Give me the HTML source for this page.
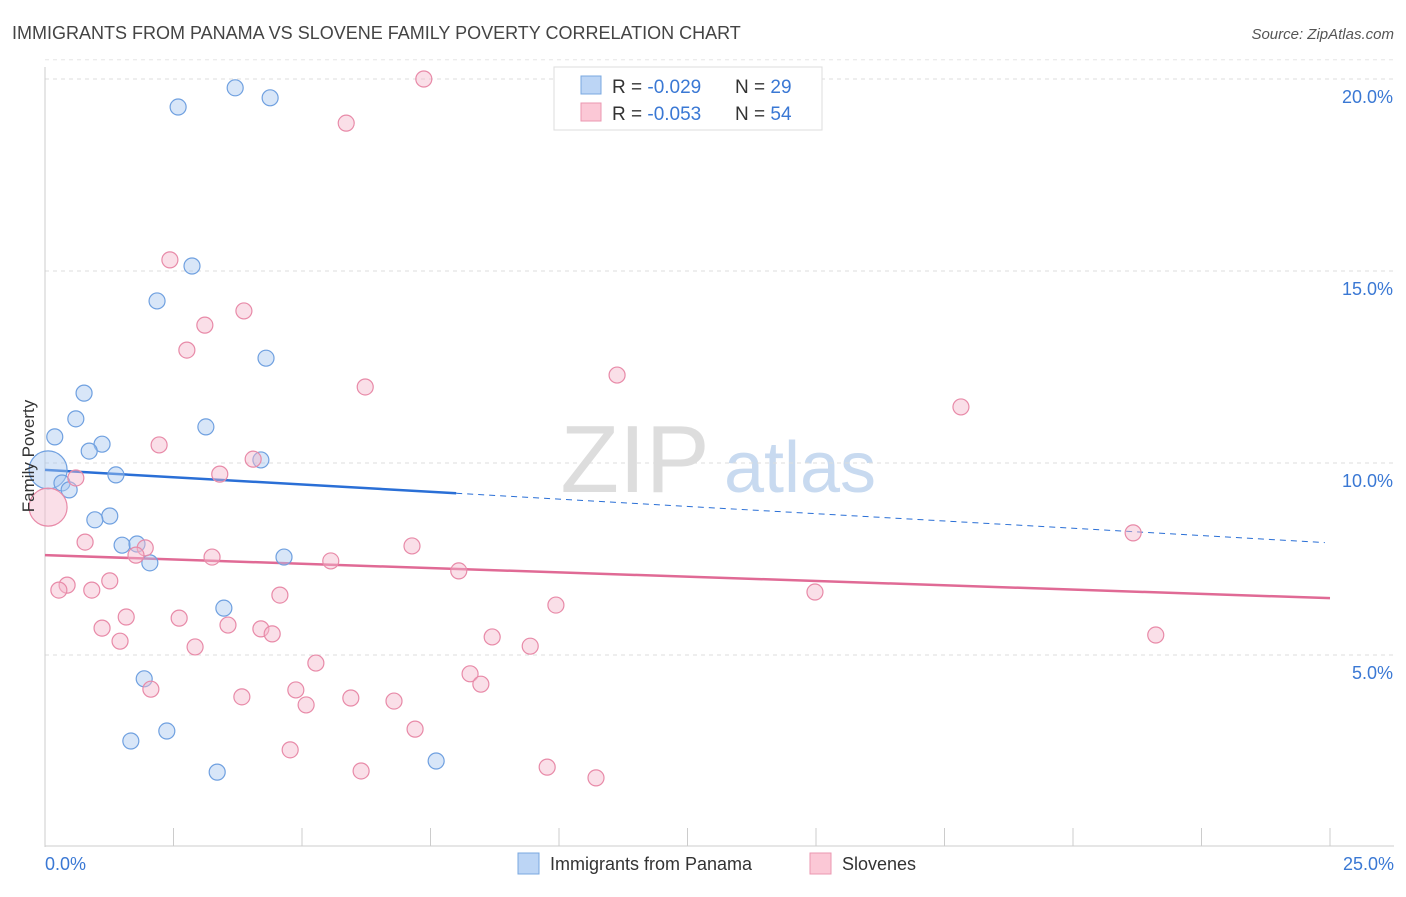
<!DOCTYPE html>
<html><head><meta charset="utf-8"><style>
body{margin:0;background:#fff;font-family:"Liberation Sans",sans-serif;}
svg text{font-family:"Liberation Sans",sans-serif;}
</style></head><body>
<svg id="chart" width="1406" height="892" viewBox="0 0 1406 892" xmlns="http://www.w3.org/2000/svg">
<text x="12" y="39" font-size="18" fill="#444">IMMIGRANTS FROM PANAMA VS SLOVENE FAMILY POVERTY CORRELATION CHART</text>
<text x="1394" y="39" font-size="15" fill="#555" text-anchor="end" font-style="italic">Source: ZipAtlas.com</text>
<g>
<text x="635" y="492" font-size="96" fill="#ddd" text-anchor="middle" font-family="Liberation Serif">ZIP</text>
<text x="800" y="492" font-size="72" fill="#c8daf0" text-anchor="middle">atlas</text>
</g>
<g id="grid"></g>
<g id="axes"></g>
<g id="lines"></g>
<g id="pts"></g>
<text transform="translate(34,456) rotate(-90)" font-size="17" fill="#333" text-anchor="middle">Family Poverty</text>
<g>
<rect x="554" y="67" width="268" height="63" fill="#fff" stroke="#ddd"/>
<rect x="581" y="76" width="20" height="18" fill="#bcd5f5" stroke="#7aa8e0"/>
<rect x="581" y="103" width="20" height="18" fill="#fbc8d6" stroke="#eb97b0"/>
<text x="612" y="93" font-size="19" fill="#333">R = <tspan fill="#3a78d4">-0.029</tspan></text>
<text x="735" y="93" font-size="19" fill="#333">N = <tspan fill="#3a78d4">29</tspan></text>
<text x="612" y="120" font-size="19" fill="#333">R = <tspan fill="#3a78d4">-0.053</tspan></text>
<text x="735" y="120" font-size="19" fill="#333">N = <tspan fill="#3a78d4">54</tspan></text>
</g>
<g>
<rect x="518" y="853" width="21" height="21" fill="#bcd5f5" stroke="#7aa8e0"/>
<text x="550" y="870" font-size="18" fill="#333">Immigrants from Panama</text>
<rect x="810" y="853" width="21" height="21" fill="#fbc8d6" stroke="#eb97b0"/>
<text x="842" y="870" font-size="18" fill="#333">Slovenes</text>
</g>
</svg>
<script>
const yTicks=[5,10,15,20];
const yTickLabels=["5.0%","10.0%","15.0%","20.0%"];
const xTicks=[0,2.5,5,7.5,10,12.5,15,17.5,20,22.5,25];
const blueX=[3.70,4.38,2.59,2.86,2.18,4.30,0.76,0.60,0.19,3.13,1.11,0.86,4.20,1.38,0.06,0.33,0.47,1.26,0.97,1.50,1.79,2.04,4.65,3.48,1.93,2.37,1.67,3.35,7.61];
const blueY=[19.77,19.51,19.27,15.13,14.22,12.73,11.82,11.15,10.68,10.94,10.49,10.31,10.08,9.69,9.82,9.48,9.30,8.62,8.52,7.86,7.89,7.40,7.55,6.22,4.38,3.02,2.76,1.95,2.24];
const pinkX=[7.37,5.86,2.43,3.87,3.11,2.76,6.23,11.13,17.82,2.22,4.05,0.60,3.40,0.06,0.78,1.95,1.77,3.25,5.56,7.14,8.05,21.17,0.43,0.27,1.26,0.91,4.57,9.94,14.98,2.61,1.58,1.11,3.56,4.20,4.42,1.46,2.92,8.70,9.44,21.61,5.27,8.27,8.48,2.06,4.88,3.83,5.95,6.79,5.08,7.20,4.77,6.15,9.77,10.72];
const pinkY=[20.0,18.85,15.29,13.96,13.59,12.94,11.98,12.29,11.46,10.47,10.10,9.61,9.71,8.85,7.94,7.79,7.60,7.55,7.45,7.84,7.19,8.18,6.82,6.69,6.93,6.69,6.56,6.30,6.64,5.96,5.99,5.70,5.78,5.68,5.55,5.36,5.21,5.47,5.23,5.52,4.79,4.51,4.24,4.11,4.09,3.91,3.88,3.80,3.70,3.07,2.53,1.98,2.08,1.80];
const blueTrend=[9.82,7.92];
const pinkTrend=[7.60,6.48];
const blueSolidEnd=8.0;
const NS="http://www.w3.org/2000/svg";
const sx=v=>45+v/25*1285;
const sy=v=>847-v*38.4;
function mk(tag,attrs,parent){const e=document.createElementNS(NS,tag);for(const k in attrs)e.setAttribute(k,attrs[k]);document.getElementById(parent).appendChild(e);return e;}
yTicks.forEach((t,i)=>{
 const l=mk('line',{x1:45,x2:1394,y1:sy(t),y2:sy(t),stroke:'#ddd','stroke-dasharray':'4,4'},'grid');
 
 
 const tx=mk('text',{x:1393,y:sy(t)+24,'font-size':18,fill:'#3a78d4','text-anchor':'end'},'grid');
 tx.textContent=yTickLabels[i];
 
 
});
const topGrid=mk('line',{x1:45,x2:1394,y1:sy(20.5),y2:sy(20.5),stroke:'#e6e6e6','stroke-dasharray':'4,4'},'grid');


const ya=mk('line',{x1:45,x2:45,y1:67,y2:847,stroke:'#ccc'},'axes');


const xa=mk('line',{x1:45,x2:1394,y1:846,y2:846,stroke:'#ccc'},'axes');


xTicks.forEach(t=>{const l=mk('line',{x1:sx(t),x2:sx(t),y1:828,y2:846,stroke:'#ccc'},'axes');
 
 });
const xl0=mk('text',{x:45,y:870,'font-size':18,fill:'#3a78d4'},'axes');xl0.textContent='0.0%';


const xl1=mk('text',{x:1394,y:870,'font-size':18,fill:'#3a78d4','text-anchor':'end'},'axes');xl1.textContent='25.0%';


function pts(X,Y,fill,stroke,name){X.forEach((x,i)=>{
 const big=(x<0.1);
 const c=mk('circle',{cx:sx(x),cy:sy(Y[i]),r:big?19:8,fill:fill,'fill-opacity':0.45,stroke:stroke,'stroke-width':1.2},'pts');
 
 
});}
pts(blueX,blueY,'#a9c8ef','#6fa0e0','panama-point');
pts(pinkX,pinkY,'#f5b8cb','#e88aa8','slovene-point');
const by=x=>blueTrend[0]+(blueTrend[1]-blueTrend[0])*x/25;
const b1=mk('line',{x1:sx(0),y1:sy(by(0)),x2:sx(blueSolidEnd),y2:sy(by(blueSolidEnd)),stroke:'#2a6fd6','stroke-width':2.5},'lines');


const b2=mk('line',{x1:sx(blueSolidEnd),y1:sy(by(blueSolidEnd)),x2:sx(24.9),y2:sy(by(24.9)),stroke:'#2a6fd6','stroke-width':1,'stroke-dasharray':'6,5'},'lines');


const p1=mk('line',{x1:sx(0),y1:sy(pinkTrend[0]),x2:sx(25),y2:sy(pinkTrend[1]),stroke:'#e06a95','stroke-width':2.5},'lines');


</script>
</body></html>
